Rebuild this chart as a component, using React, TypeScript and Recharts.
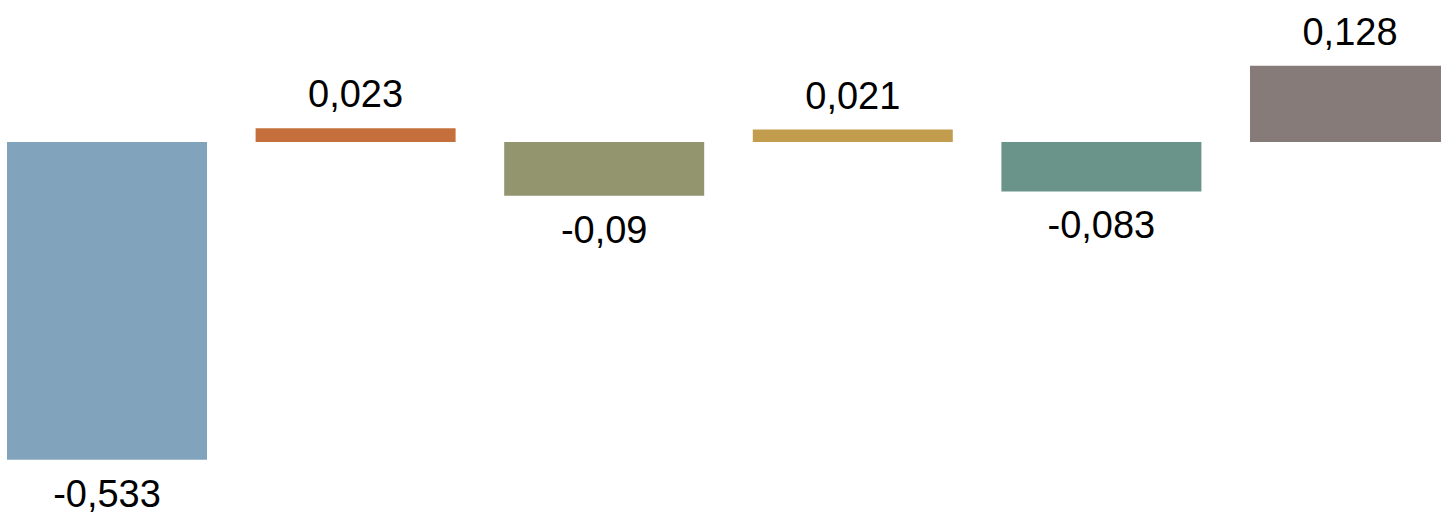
import React from "react";
import { BarChart, Bar, XAxis, YAxis, Cell, LabelList } from "recharts";

const categories = ["1", "2", "3", "4", "5", "6"];
const values = [-0.533, 0.023, -0.09, 0.021, -0.083, 0.128];
const colors = ["#82A3BC", "#C5703C", "#93956F", "#C39D4E", "#6A9389", "#867B79"];

const data = categories.map((c, i) => ({ name: c, value: values[i] }));

const fmt = (v: number) => String(v).replace(".", ",");

const renderLabel = (props: any) => {
  const { x, y, width, height, value } = props;
  const top = Math.min(y, y + height);
  const bottom = Math.max(y, y + height);
  const cx = x + width / 2;
  const ty = value >= 0 ? top - 21 : bottom + 47;
  return (
    <text
      x={cx}
      y={ty}
      textAnchor="middle"
      fill="#000"
      fontSize={38}
      fontFamily="'Liberation Sans', Arial, sans-serif"
    >
      {fmt(value)}
    </text>
  );
};

export default function App() {
  return (
    <div
      style={{
        position: "absolute",
        left: 0,
        top: 0,
        width: 1441,
        height: 515,
        overflow: "hidden",
        background: "#fff",
      }}
    >
      <div style={{ position: "absolute", left: -17.3, top: 0 }}>
        <BarChart
          width={1491.6}
          height={515}
          data={data}
          margin={{ top: 0, right: 0, bottom: 0, left: 0 }}
          barCategoryGap={24.3}
          style={{ overflow: "visible" }}
        >
          <XAxis dataKey="name" hide />
          <YAxis hide domain={[-0.6258, 0.2383]} allowDataOverflow />
          <Bar dataKey="value" barSize={200} isAnimationActive={false}>
            {data.map((d, i) => (
              <Cell key={d.name} fill={colors[i]} />
            ))}
            <LabelList dataKey="value" content={renderLabel} />
          </Bar>
        </BarChart>
      </div>
    </div>
  );
}
